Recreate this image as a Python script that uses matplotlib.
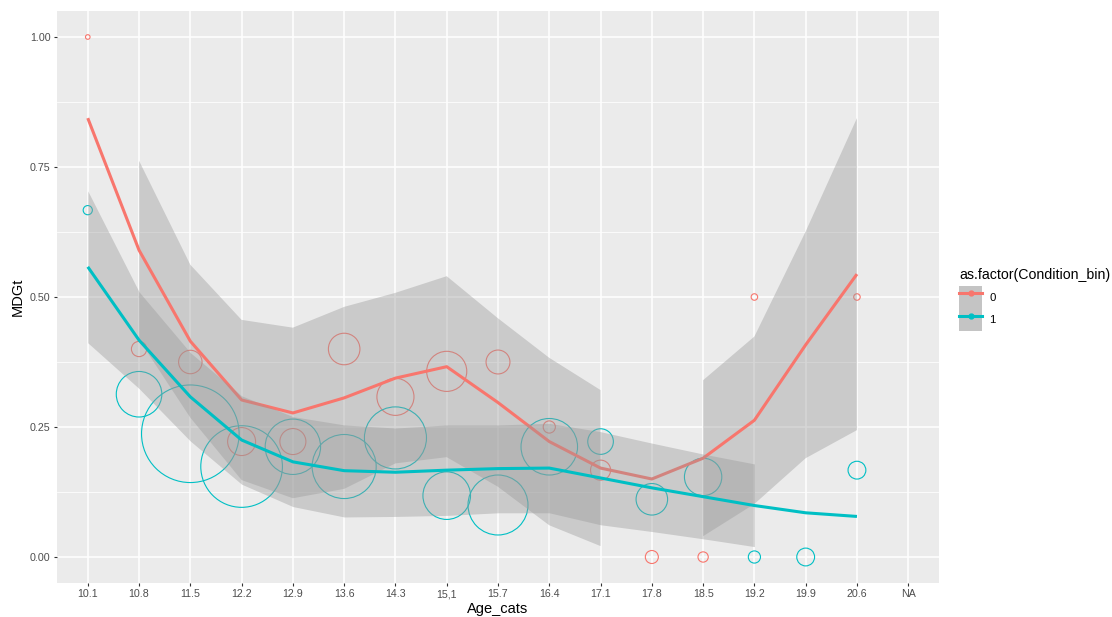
import numpy as np
import matplotlib
matplotlib.use('Agg')
import matplotlib.pyplot as plt
from matplotlib.lines import Line2D
from matplotlib.patches import Patch

plt.rcParams['font.family'] = ['Liberation Sans', 'DejaVu Sans']

# x categories (discrete axis)
age_cats = ['10.1', '10.8', '11.5', '12.2', '12.9', '13.6', '14.3', '15,1',
            '15.7', '16.4', '17.1', '17.8', '18.5', '19.2', '19.9', '20.6', 'NA']

# observed points, Condition_bin = 0
pts0_cat = ['10.1', '10.8', '11.5', '12.2', '12.9', '13.6', '14.3', '15,1',
            '15.7', '16.4', '17.1', '17.8', '18.5', '19.2', '20.6']
pts0_y = [1.00, 0.40, 0.375, 0.222, 0.222, 0.40, 0.308, 0.357,
          0.375, 0.25, 0.167, 0.0, 0.0, 0.50, 0.50]
pts0_n = [1, 11, 26, 37, 32, 47, 65, 76, 27, 7, 19, 8, 5, 2, 2]

# observed points, Condition_bin = 1
pts1_cat = ['10.1', '10.8', '11.5', '12.2', '12.9', '13.6', '14.3', '15,1',
            '15.7', '16.4', '17.1', '17.8', '18.5', '19.2', '19.9', '20.6']
pts1_y = [0.667, 0.313, 0.237, 0.174, 0.212, 0.174, 0.229, 0.118,
          0.10, 0.212, 0.222, 0.111, 0.154, 0.0, 0.0, 0.167]
pts1_n = [4, 98, 450, 315, 145, 194, 182, 107, 170, 151, 31, 47, 66, 7, 15, 15]

# smooth fits and confidence bands (16 categories, no NA)
fit_cat = age_cats[:-1]
fit0 = [0.844, 0.59, 0.415, 0.302, 0.277, 0.306, 0.344, 0.366,
        0.297, 0.222, 0.171, 0.15, 0.19, 0.263, 0.408, 0.544]
hi0 = [np.nan, 0.762, 0.562, 0.456, 0.441, 0.481, 0.508, 0.54,
       0.459, 0.383, 0.321, np.nan, 0.34, 0.424, 0.626, 0.844]
lo0 = [np.nan, 0.418, 0.268, 0.148, 0.113, 0.131, 0.18, 0.192,
       0.135, 0.061, 0.021, np.nan, 0.04, 0.102, 0.19, 0.244]

fit1 = [0.558, 0.417, 0.308, 0.225, 0.183, 0.166, 0.163, 0.167,
        0.170, 0.171, 0.152, 0.133, 0.116, 0.099, 0.085, 0.078]
hi1 = [0.704, 0.51, 0.393, 0.31, 0.27, 0.254, 0.248, 0.254,
       0.254, 0.257, 0.241, 0.219, 0.198, 0.179, np.nan, np.nan]
lo1 = [0.412, 0.324, 0.223, 0.14, 0.097, 0.077, 0.078, 0.08,
       0.085, 0.085, 0.062, 0.049, 0.035, 0.02, np.nan, np.nan]

red = '#F8766D'
teal = '#00BFC4'

pos = {c: i for i, c in enumerate(age_cats)}


def size_of(n):
    # area proportional to n; radius in px = 2.3*sqrt(n), 100 dpi
    r = 2.3 * np.sqrt(np.asarray(n, dtype=float))
    return (2 * r * 0.72) ** 2


fig = plt.figure(figsize=(11.12, 6.17), dpi=100)
ax = fig.add_axes([57 / 1112, 34 / 617, 882 / 1112, 572 / 617])
ax.set_facecolor('#EBEBEB')

# grid
for y in [0.125, 0.375, 0.625, 0.875]:
    ax.axhline(y, color='white', lw=0.55, zorder=0)
for y in [0, 0.25, 0.5, 0.75, 1.0]:
    ax.axhline(y, color='white', lw=1.1, zorder=0)
for i in range(len(age_cats)):
    ax.axvline(i, color='white', lw=1.1, zorder=0)

# points
x0 = [pos[c] for c in pts0_cat]
x1 = [pos[c] for c in pts1_cat]
ax.scatter(x0, pts0_y, s=size_of(pts0_n), facecolors='none', edgecolors=red,
           linewidths=0.8, zorder=2)
ax.scatter(x1, pts1_y, s=size_of(pts1_n), facecolors='none', edgecolors=teal,
           linewidths=0.8, zorder=2)

# smooths: ribbon then line, per group
xf = np.array([pos[c] for c in fit_cat], dtype=float)
ax.fill_between(xf, lo0, hi0, color='#999999', alpha=0.4, lw=0, zorder=3)
ax.plot(xf, fit0, color=red, lw=2.2, zorder=3, solid_capstyle='butt')
ax.fill_between(xf, lo1, hi1, color='#999999', alpha=0.4, lw=0, zorder=3)
ax.plot(xf, fit1, color=teal, lw=2.2, zorder=3, solid_capstyle='butt')

ax.set_xlim(-0.6, len(age_cats) - 1 + 0.6)
ax.set_ylim(-0.05, 1.05)
ax.set_xticks(range(len(age_cats)))
ax.set_xticklabels(age_cats)
ax.set_yticks([0, 0.25, 0.5, 0.75, 1.0])
ax.set_yticklabels(['0.00', '0.25', '0.50', '0.75', '1.00'])
ax.tick_params(length=2.5, width=0.8, color='#333333', labelcolor='#4D4D4D',
               labelsize=7.7, pad=2)
for s in ax.spines.values():
    s.set_visible(False)

ax.set_xlabel('Age_cats', fontsize=10.5, labelpad=2)
ax.set_ylabel('MDGt', fontsize=10.5, labelpad=4)

# legend
handles = []
for col in [red, teal]:
    handles.append((Patch(facecolor='#C4C4C4', edgecolor='none'),
                    Line2D([], [], color=col, lw=2.2, marker='o', ms=3.5,
                           markerfacecolor=col, markeredgecolor=col)))
leg = ax.legend(handles, ['0', '1'], title='as.factor(Condition_bin)',
                loc='upper left', bbox_to_anchor=(959 / 1112, 1 - 268 / 617),
                bbox_transform=fig.transFigure, frameon=False,
                fontsize=8.2, title_fontsize=10.2, handlelength=2.05,
                handleheight=2.65, labelspacing=0, handletextpad=0.6,
                borderpad=0, borderaxespad=0, alignment='left')
leg._legend_box.sep = 3

fig.savefig('out.png', dpi=100)
